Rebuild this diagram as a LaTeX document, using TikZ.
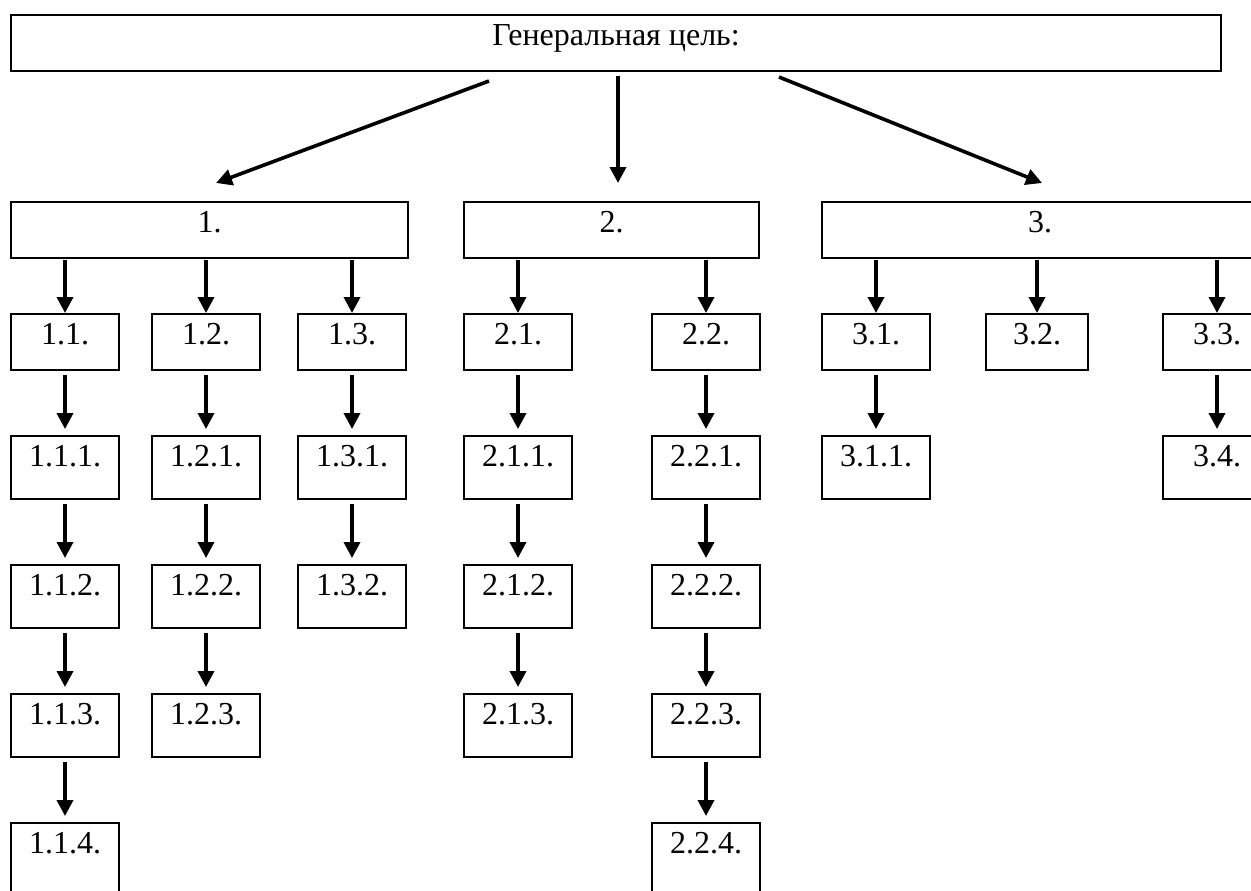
\documentclass[tikz,border=0pt]{standalone}
\usepackage{fontspec}
\setmainfont{Liberation Serif}
\usetikzlibrary{calc, positioning, arrows.meta}

\begin{document}
\begin{tikzpicture}[x=0.5pt, y=-0.5pt,
    font=\fontsize{16pt}{19pt}\selectfont,
    cell/.style={draw=black, line width=1pt, inner sep=0pt, text height=15pt, anchor=north west},
    goal/.style={cell, minimum width=605pt, text depth=13pt},
    sub/.style={cell, minimum width=54pt, text depth=13pt},
    task/.style={cell, minimum width=54pt, text depth=16.5pt},
    arr/.style={-{Triangle[width=8pt,length=8pt]}, line width=1.8pt},
    node distance=32pt]
    \useasboundingbox (0,0) rectangle (1251,890);
    \clip (0,0) rectangle (1251,890);
    \fill[white] (0,0) rectangle (1251,890);
    % general goal and its three branches
    \node (gen) [goal] at (10,14) {Генеральная цель:};
    \node (g1) [sub, minimum width=198.5pt] at (10,201) {1.};
    \node (g2) [sub, minimum width=147.5pt] at (463,201) {2.};
    \node (g3) [sub, minimum width=218pt] at (821,201) {3.};
    % second level
    \node (n11) [sub] at (10,313) {1.1.};
    \node (n12) [sub] at (151,313) {1.2.};
    \node (n13) [sub] at (297,313) {1.3.};
    \node (n21) [sub] at (463,313) {2.1.};
    \node (n22) [sub] at (651,313) {2.2.};
    \node (n31) [sub] at (821,313) {3.1.};
    \node (n32) [sub, minimum width=51pt] at (985,313) {3.2.};
    \node (n33) [sub] at (1162,313) {3.3.};
    % columns
    \node (n111) [task, below=of n11] {1.1.1.};
    \node (n112) [task, below=of n111] {1.1.2.};
    \node (n113) [task, below=of n112] {1.1.3.};
    \node (n114) [task, text depth=20pt, below=of n113] {1.1.4.};
    \node (n121) [task, below=of n12] {1.2.1.};
    \node (n122) [task, below=of n121] {1.2.2.};
    \node (n123) [task, below=of n122] {1.2.3.};
    \node (n131) [task, below=of n13] {1.3.1.};
    \node (n132) [task, below=of n131] {1.3.2.};
    \node (n211) [task, below=of n21] {2.1.1.};
    \node (n212) [task, below=of n211] {2.1.2.};
    \node (n213) [task, below=of n212] {2.1.3.};
    \node (n221) [task, below=of n22] {2.2.1.};
    \node (n222) [task, below=of n221] {2.2.2.};
    \node (n223) [task, below=of n222] {2.2.3.};
    \node (n224) [task, text depth=20pt, below=of n223] {2.2.4.};
    \node (n311) [task, below=of n31] {3.1.1.};
    \node (n34) [task, below=of n33] {3.4.};
    % arrows
    \draw[arr] ($(gen.south)+(-127,9)$) -- ($(g1.north)+(6.5,-18)$);
    \draw[arr] ($(gen.south)+(2,4)$) -- ($(g2.north)+(6.5,-18)$);
    \draw[arr] ($(gen.south)+(163,5)$) -- ($(g3.north)+(2,-18)$);
    \foreach \p/\c in {g1/n11, g1/n12, g1/n13, g2/n21, g2/n22, g3/n31, g3/n32, g3/n33}
        \draw[arr, shorten <=0.5pt] (\p.south -| \c.north) -- (\c.north);
    \foreach \a/\b in {n11/n111, n111/n112, n112/n113, n113/n114, n12/n121, n121/n122,
        n122/n123, n13/n131, n131/n132, n21/n211, n211/n212, n212/n213, n22/n221,
        n221/n222, n222/n223, n223/n224, n31/n311, n33/n34}
        \draw[arr, shorten <=2pt, shorten >=3pt] (\a) -- (\b);
\end{tikzpicture}
\end{document}
